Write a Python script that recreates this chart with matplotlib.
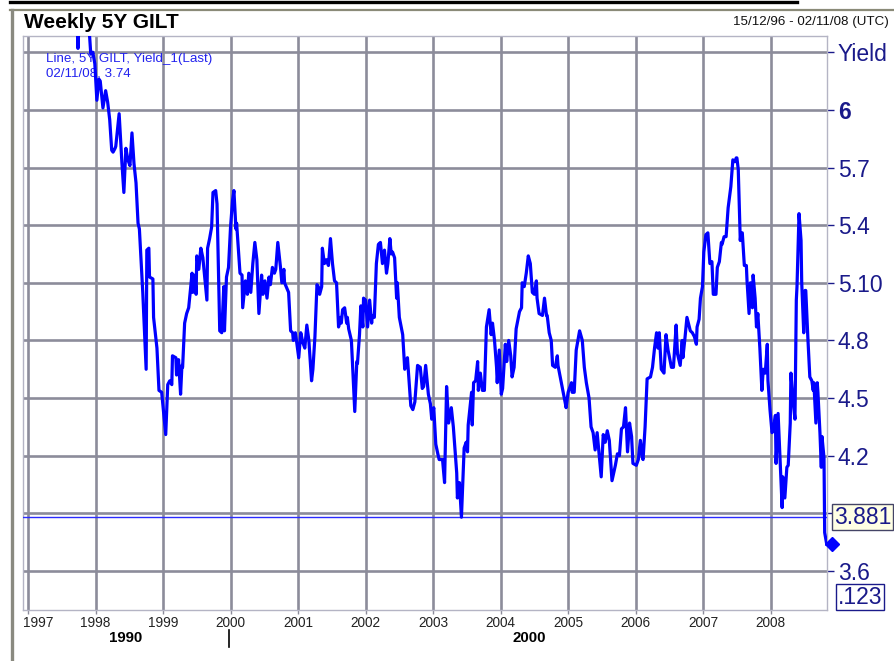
import matplotlib
matplotlib.use('Agg')
import matplotlib.pyplot as plt
import matplotlib.transforms as mtrans
from matplotlib.lines import Line2D

plt.rcParams['font.family'] = ['Liberation Sans', 'DejaVu Sans']

# ---- data (decimal year, yield %) ----
dates = [
    1996.96, 1997.05, 1997.15, 1997.25, 1997.35, 1997.45, 1997.55, 1997.65, 1997.72, 1997.74,
    1997.77, 1997.85, 1997.90, 1997.93, 1997.96, 1997.99, 1998.02, 1998.05, 1998.07, 1998.11,
    1998.15, 1998.18, 1998.21, 1998.24, 1998.26, 1998.29, 1998.30, 1998.35, 1998.39, 1998.42,
    1998.45, 1998.48, 1998.51, 1998.54, 1998.57, 1998.60, 1998.63, 1998.65, 1998.70, 1998.75,
    1998.76, 1998.79, 1998.80, 1998.85, 1998.86, 1998.91, 1998.94, 1998.98, 1999.01, 1999.04,
    1999.07, 1999.10, 1999.13, 1999.14, 1999.19, 1999.20, 1999.23, 1999.26, 1999.28, 1999.29,
    1999.32, 1999.35, 1999.38, 1999.43, 1999.44, 1999.47, 1999.49, 1999.50, 1999.53, 1999.56,
    1999.59, 1999.65, 1999.66, 1999.69, 1999.72, 1999.74, 1999.78, 1999.80, 1999.84, 1999.87,
    1999.90, 1999.91, 1999.94, 1999.97, 2000.00, 2000.03, 2000.05, 2000.08, 2000.09, 2000.14,
    2000.17, 2000.18, 2000.22, 2000.25, 2000.27, 2000.30, 2000.33, 2000.36, 2000.39, 2000.42,
    2000.46, 2000.48, 2000.51, 2000.54, 2000.57, 2000.59, 2000.62, 2000.65, 2000.67, 2000.70,
    2000.74, 2000.76, 2000.79, 2000.80, 2000.86, 2000.89, 2000.92, 2000.93, 2000.96, 2000.98,
    2001.01, 2001.04, 2001.07, 2001.10, 2001.13, 2001.16, 2001.20, 2001.22, 2001.25, 2001.28,
    2001.30, 2001.32, 2001.35, 2001.36, 2001.39, 2001.42, 2001.45, 2001.48, 2001.51, 2001.54,
    2001.57, 2001.60, 2001.63, 2001.64, 2001.66, 2001.69, 2001.72, 2001.73, 2001.75, 2001.79,
    2001.81, 2001.84, 2001.87, 2001.88, 2001.91, 2001.93, 2001.96, 2001.97, 2002.00, 2002.03,
    2002.06, 2002.09, 2002.10, 2002.13, 2002.16, 2002.19, 2002.22, 2002.25, 2002.28, 2002.31,
    2002.33, 2002.36, 2002.38, 2002.40, 2002.43, 2002.46, 2002.47, 2002.50, 2002.55, 2002.58,
    2002.61, 2002.62, 2002.67, 2002.70, 2002.73, 2002.77, 2002.81, 2002.84, 2002.86, 2002.89,
    2002.93, 2002.96, 2002.98, 2003.01, 2003.04, 2003.07, 2003.09, 2003.14, 2003.17, 2003.20,
    2003.23, 2003.27, 2003.30, 2003.35, 2003.36, 2003.39, 2003.42, 2003.44, 2003.46, 2003.49,
    2003.51, 2003.52, 2003.57, 2003.58, 2003.60, 2003.63, 2003.66, 2003.67, 2003.70, 2003.73,
    2003.76, 2003.79, 2003.83, 2003.86, 2003.88, 2003.91, 2003.94, 2003.95, 2003.98, 2004.01,
    2004.03, 2004.07, 2004.09, 2004.12, 2004.15, 2004.17, 2004.20, 2004.23, 2004.28, 2004.31,
    2004.32, 2004.35, 2004.38, 2004.41, 2004.44, 2004.47, 2004.50, 2004.53, 2004.54, 2004.57,
    2004.62, 2004.65, 2004.68, 2004.69, 2004.72, 2004.75, 2004.77, 2004.81, 2004.84, 2004.85,
    2004.90, 2004.91, 2004.96, 2004.97, 2005.00, 2005.05, 2005.06, 2005.09, 2005.12, 2005.17,
    2005.21, 2005.24, 2005.27, 2005.31, 2005.34, 2005.37, 2005.40, 2005.43, 2005.49, 2005.52,
    2005.55, 2005.58, 2005.61, 2005.65, 2005.70, 2005.73, 2005.76, 2005.79, 2005.82, 2005.85,
    2005.88, 2005.91, 2005.94, 2005.96, 2006.01, 2006.04, 2006.07, 2006.10, 2006.11, 2006.14,
    2006.17, 2006.22, 2006.25, 2006.28, 2006.31, 2006.33, 2006.35, 2006.38, 2006.42, 2006.45,
    2006.48, 2006.53, 2006.56, 2006.60, 2006.62, 2006.66, 2006.69, 2006.70, 2006.73, 2006.76,
    2006.81, 2006.84, 2006.87, 2006.90, 2006.91, 2006.94, 2006.96, 2006.99, 2007.01, 2007.04,
    2007.07, 2007.10, 2007.13, 2007.15, 2007.19, 2007.21, 2007.24, 2007.27, 2007.28, 2007.31,
    2007.34, 2007.37, 2007.41, 2007.43, 2007.44, 2007.47, 2007.49, 2007.50, 2007.52, 2007.55,
    2007.56, 2007.58, 2007.61, 2007.64, 2007.65, 2007.68, 2007.70, 2007.73, 2007.74, 2007.77,
    2007.79, 2007.81, 2007.84, 2007.87, 2007.89, 2007.92, 2007.95, 2007.96, 2007.99, 2008.02,
    2008.04, 2008.07, 2008.08, 2008.11, 2008.14, 2008.17, 2008.18, 2008.21, 2008.24, 2008.26,
    2008.29, 2008.30, 2008.33, 2008.36, 2008.38, 2008.39, 2008.42, 2008.45, 2008.46, 2008.49,
    2008.51, 2008.52, 2008.55, 2008.58, 2008.61, 2008.63, 2008.64, 2008.67, 2008.69, 2008.70,
    2008.73, 2008.75, 2008.76, 2008.79, 2008.80, 2008.83,
]
yields = [
    6.95, 7.05, 7.12, 7.10, 6.95, 6.90, 6.85, 6.75, 6.55, 6.32,
    6.58, 6.62, 6.45, 6.29, 6.30, 6.24, 6.05, 6.16, 6.15, 6.01,
    6.10, 6.04, 5.95, 5.79, 5.78, 5.80, 5.81, 5.98, 5.73, 5.57,
    5.80, 5.74, 5.71, 5.88, 5.72, 5.62, 5.41, 5.38, 5.05, 4.65,
    5.27, 5.28, 5.13, 5.12, 4.92, 4.76, 4.54, 4.53, 4.42, 4.31,
    4.57, 4.59, 4.57, 4.72, 4.71, 4.62, 4.70, 4.52, 4.67, 4.66,
    4.89, 4.94, 4.97, 5.15, 5.05, 5.14, 5.04, 5.24, 5.17, 5.28,
    5.23, 5.01, 5.28, 5.33, 5.39, 5.57, 5.58, 5.51, 4.85, 4.84,
    5.08, 4.85, 5.13, 5.18, 5.39, 5.53, 5.58, 5.38, 5.41, 5.15,
    5.14, 4.97, 5.11, 5.04, 5.15, 5.05, 5.20, 5.31, 5.22, 4.94,
    5.14, 5.04, 5.11, 5.02, 5.13, 5.09, 5.18, 5.15, 5.17, 5.31,
    5.18, 5.10, 5.17, 5.10, 5.05, 4.85, 4.84, 4.80, 4.84, 4.79,
    4.71, 4.84, 4.79, 4.76, 4.88, 4.80, 4.59, 4.65, 4.82, 5.09,
    5.08, 5.04, 5.08, 5.28, 5.20, 5.22, 5.19, 5.33, 5.20, 5.11,
    5.10, 4.87, 4.92, 4.89, 4.96, 4.97, 4.89, 4.92, 4.86, 4.80,
    4.65, 4.43, 4.69, 4.68, 4.83, 4.98, 4.87, 5.02, 5.01, 4.87,
    5.01, 4.89, 4.93, 4.92, 5.20, 5.30, 5.31, 5.20, 5.27, 5.15,
    5.20, 5.33, 5.25, 5.26, 5.23, 5.02, 5.10, 4.92, 4.83, 4.65,
    4.70, 4.71, 4.46, 4.44, 4.48, 4.67, 4.66, 4.55, 4.56, 4.67,
    4.52, 4.47, 4.39, 4.45, 4.26, 4.21, 4.18, 4.18, 4.06, 4.56,
    4.37, 4.45, 4.35, 4.11, 3.98, 4.06, 3.88, 4.06, 4.24, 4.27,
    4.22, 4.36, 4.53, 4.36, 4.58, 4.59, 4.69, 4.54, 4.63, 4.54,
    4.54, 4.87, 4.96, 4.83, 4.89, 4.80, 4.66, 4.58, 4.75, 4.52,
    4.55, 4.78, 4.69, 4.80, 4.72, 4.61, 4.66, 4.86, 4.95, 4.97,
    5.10, 5.08, 5.15, 5.24, 5.20, 5.05, 5.04, 5.11, 5.02, 4.94,
    4.93, 5.02, 4.93, 4.93, 4.84, 4.80, 4.67, 4.66, 4.72, 4.67,
    4.58, 4.56, 4.47, 4.45, 4.53, 4.58, 4.53, 4.53, 4.75, 4.85,
    4.80, 4.66, 4.58, 4.50, 4.35, 4.32, 4.23, 4.32, 4.09, 4.31,
    4.27, 4.33, 4.28, 4.07, 4.15, 4.21, 4.20, 4.34, 4.35, 4.45,
    4.22, 4.37, 4.30, 4.16, 4.15, 4.18, 4.28, 4.19, 4.18, 4.35,
    4.60, 4.61, 4.66, 4.76, 4.84, 4.76, 4.84, 4.65, 4.63, 4.83,
    4.75, 4.66, 4.66, 4.88, 4.73, 4.67, 4.80, 4.71, 4.81, 4.92,
    4.85, 4.84, 4.82, 4.78, 4.87, 4.91, 5.02, 5.08, 5.26, 5.35,
    5.36, 5.20, 5.21, 5.04, 5.04, 5.18, 5.21, 5.31, 5.30, 5.34,
    5.34, 5.49, 5.60, 5.69, 5.74, 5.73, 5.75, 5.75, 5.69, 5.32,
    5.36, 5.36, 5.19, 5.19, 5.11, 4.94, 5.10, 4.97, 5.14, 5.02,
    4.87, 4.94, 4.76, 4.54, 4.65, 4.63, 4.78, 4.59, 4.44, 4.32,
    4.33, 4.41, 4.16, 4.42, 4.18, 3.93, 4.09, 3.98, 4.14, 4.15,
    4.37, 4.63, 4.49, 4.39, 5.01, 5.08, 5.46, 5.32, 5.10, 4.84,
    5.06, 5.06, 4.82, 4.61, 4.59, 4.54, 4.58, 4.37, 4.58, 4.53,
    4.32, 4.14, 4.30, 4.19, 3.80, 3.74,
]

year_ticks = list(range(1997, 2009))
y_ticks = [3.6, 3.9, 4.2, 4.5, 4.8, 5.1, 5.4, 5.7, 6.0, 6.3]
y_tick_labels = ['3.6', '', '4.2', '4.5', '4.8', '5.10', '5.4', '5.7', '6', 'Yield']
cursor_level = 3.881
cursor_text = '3.881'
small_box_text = '.123'
title = 'Weekly 5Y GILT'
date_range = '15/12/96 - 02/11/08 (UTC)'
legend_lines = ['Line, 5Y GILT, Yield_1(Last)', '02/11/08, 3.74']
decade_labels = [('1990', 126), ('2000', 529)]

W, H = 894, 661
NAVY = '#1a1a8a'
BLUE = '#0000ff'
GRID = '#8c8c9a'

fig = plt.figure(figsize=(W / 100, H / 100), dpi=100)
fig.patch.set_facecolor('white')

def fx(px):
    return px / W

def fy(py):
    return 1 - py / H

ax = fig.add_axes([fx(22.7), fy(610), fx(826.7) - fx(22.7), fy(35.7) - fy(610)])
ax.set_xlim(1996.9216, 2008.83)
ax.set_ylim(3.397, 6.386)

for yr in year_ticks:
    ax.axvline(yr, color=GRID, lw=1.9, zorder=1)
for v in y_ticks:
    ax.axhline(v, color=GRID, lw=1.9, zorder=1)

ax.axhline(cursor_level, color='#2b2bff', lw=1.0, zorder=2.6)
ax.plot(dates, yields, color=BLUE, lw=2.3, zorder=3, solid_joinstyle='round')

# last-value diamond
off = mtrans.offset_copy(ax.transData, fig=fig, x=5, y=0, units='dots')
ax.plot([dates[-1]], [yields[-1]], marker='D', ms=7, color=BLUE,
        transform=off, clip_on=False, zorder=4)

for sp in ax.spines.values():
    sp.set_color('#b4b4c4')
    sp.set_linewidth(1.0)

# y axis on the right
ax.yaxis.tick_right()
ax.set_yticks(y_ticks)
ax.set_yticklabels(y_tick_labels)
ax.tick_params(axis='y', length=5, width=1, color=NAVY, labelcolor=NAVY,
               labelsize=16.5, pad=3)
for lab, txt in zip(ax.get_yticklabels(), y_tick_labels):
    if txt == '6':
        lab.set_fontweight('bold')

# x axis
ax.set_xticks(year_ticks)
ax.set_xticklabels([str(y) for y in year_ticks])
ax.tick_params(axis='x', length=3, width=1, color=GRID, labelcolor='#222222',
               labelsize=9.8, pad=1.5)
first = ax.get_xticklabels()[0]
first.set_horizontalalignment('left')
first.set_transform(first.get_transform() + mtrans.ScaledTranslation(-5 / 100, 0, fig.dpi_scale_trans))

# legend text (under the line)
ax.text(fx(46), fy(59), legend_lines[0], transform=fig.transFigure, color='#2222ee',
        fontsize=9.6, va='center', ha='left', zorder=2.5)
ax.text(fx(46), fy(73), legend_lines[1], transform=fig.transFigure, color='#2222ee',
        fontsize=9.6, va='center', ha='left', zorder=2.5)

# cursor value box
blend = mtrans.blended_transform_factory(fig.transFigure, ax.transData)
ax.text(fx(834), cursor_level, cursor_text, transform=blend, color=NAVY, fontsize=16.5,
        va='center', ha='left', clip_on=False, zorder=5,
        bbox=dict(boxstyle='square,pad=0.08', fc='#ffffe4', ec='#444466', lw=1))
fig.text(fx(838), fy(597), small_box_text, color=NAVY, fontsize=16.5, va='center', ha='left',
         bbox=dict(boxstyle='square,pad=0.08', fc='white', ec=NAVY, lw=1))

# title & header
fig.text(fx(24), fy(22), title, fontsize=15, fontweight='bold', va='center', ha='left',
         color='black')
fig.text(fx(733), fy(22), date_range, fontsize=9.6, va='center', ha='left', color='#111111')

# decade labels
for txt, xp in decade_labels:
    fig.text(fx(xp), fy(638), txt, fontsize=10.8, fontweight='bold', ha='center', va='center')
fig.add_artist(Line2D([fx(229), fx(229)], [fy(630), fy(647)], color='black', lw=1.2))

# frame decorations
fig.add_artist(Line2D([fx(10), fx(797)], [fy(2), fy(2)], color='black', lw=2.4))
fig.add_artist(Line2D([fx(10), fx(894)], [fy(10), fy(10)], color='#8a8a78', lw=1.6))
fig.add_artist(Line2D([fx(12), fx(12)], [fy(10), fy(661)], color='#8a8a80', lw=2.4))

fig.savefig('out.png', dpi=100, facecolor='white')
